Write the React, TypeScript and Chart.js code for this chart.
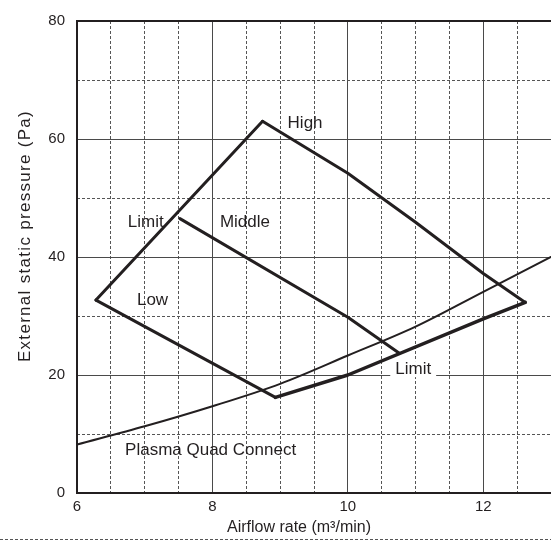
import React, { useEffect, useRef } from "react";
import { Chart, registerables } from "chart.js";

Chart.register(...registerables);

// Axis ticks and grid positions
const xMajorTicks = [6, 8, 10, 12];
const xMinorGrid = [6.5, 7, 7.5, 8.5, 9, 9.5, 10.5, 11, 11.5, 12.5];
const yMajorTicks = [0, 20, 40, 60, 80];
const yMinorGrid = [10, 30, 50, 70];

// Curves (airflow m3/min, pressure Pa)
const limitLeftX = [6.28, 8.74];
const limitLeftY = [32.7, 63];
const highX = [8.74, 10, 11, 12, 12.62];
const highY = [63, 54.2, 45.9, 37.2, 32.3];
const middleX = [7.52, 10, 10.76];
const middleY = [46.5, 29.8, 23.7];
const lowX = [6.28, 8.93];
const lowY = [32.7, 16.2];
const limitRightX = [8.93, 10, 12, 12.62];
const limitRightY = [16.2, 20, 29.5, 32.3];
const plasmaX = [6, 7, 8, 9, 10, 11, 12, 13];
const plasmaY = [8.2, 11.3, 14.7, 18.5, 23.3, 28.2, 34.1, 40];

// Text annotations
const annotationTexts = ["High", "Limit", "Middle", "Low", "Limit", "Plasma Quad Connect"];
const annotationX = [9.11, 6.75, 8.11, 6.885, 10.7, 6.71];
const annotationY = [62.7, 45.8, 45.8, 32.7, 21, 7.2];
const annotationBoxed = [false, false, false, false, true, false];

const xTitle = "Airflow rate (m³/min)";
const yTitle = "External static pressure (Pa)";

const INK = "#231f20";
const FONT = '"Liberation Sans", Arial, sans-serif';

const pts = (xs: number[], ys: number[]) => xs.map((x, i) => ({ x, y: ys[i] }));

const textPlugin = {
  id: "annotText",
  afterDatasetsDraw(chart: any) {
    const { ctx, scales } = chart;
    const x = scales.x;
    const y = scales.y;
    ctx.save();
    ctx.font = `17px ${FONT}`;
    ctx.textBaseline = "middle";
    ctx.textAlign = "left";
    annotationTexts.forEach((t, i) => {
      const px = x.getPixelForValue(annotationX[i]);
      const py = y.getPixelForValue(annotationY[i]);
      if (annotationBoxed[i]) {
        const w = ctx.measureText(t).width;
        ctx.fillStyle = "#ffffff";
        ctx.fillRect(px - 5, py - 8, w + 10, 16);
      }
      ctx.fillStyle = INK;
      ctx.fillText(t, px, py);
    });
    ctx.restore();
  },
  afterDraw(chart: any) {
    const { ctx, chartArea } = chart;
    ctx.save();
    // frame: top edge
    ctx.strokeStyle = INK;
    ctx.lineWidth = 2;
    ctx.beginPath();
    ctx.moveTo(chartArea.left - 1, chartArea.top);
    ctx.lineTo(chartArea.right, chartArea.top);
    ctx.stroke();
    // titles
    ctx.fillStyle = INK;
    ctx.font = `16px ${FONT}`;
    ctx.textAlign = "center";
    ctx.textBaseline = "middle";
    ctx.fillText(xTitle, 299, 528);
    ctx.font = `17px ${FONT}`;
    try {
      (ctx as any).letterSpacing = "1.3px";
    } catch (e) {}
    ctx.translate(25, 236);
    ctx.rotate(-Math.PI / 2);
    ctx.fillText(yTitle, 0, 0);
    ctx.restore();
    // bottom dashed separator
    ctx.save();
    ctx.strokeStyle = "#555";
    ctx.lineWidth = 1;
    ctx.setLineDash([3, 2]);
    ctx.beginPath();
    ctx.moveTo(0, 539.5);
    ctx.lineTo(chart.width, 539.5);
    ctx.stroke();
    ctx.restore();
  },
};

export default function App() {
  const ref = useRef<HTMLCanvasElement | null>(null);
  useEffect(() => {
    if (!ref.current) return;
    const line = (data: any, width: number, curved = false) => ({
      data,
      borderColor: INK,
      borderWidth: width,
      pointRadius: 0,
      fill: false,
      tension: 0,
      cubicInterpolationMode: curved ? "monotone" : "default",
      borderCapStyle: "round",
      borderJoinStyle: "round",
    });
    const chart = new Chart(ref.current, {
      type: "line",
      data: {
        datasets: [
          line(pts(plasmaX, plasmaY), 2, true),
          line(pts(limitLeftX, limitLeftY), 3),
          line(pts(highX, highY), 3),
          line(pts(middleX, middleY), 3),
          line(pts(lowX, lowY), 3),
          line(pts(limitRightX, limitRightY), 3.5),
        ] as any,
      },
      options: {
        animation: false,
        responsive: false,
        maintainAspectRatio: false,
        events: [],
        layout: { padding: { top: 13, right: 0, bottom: 0, left: 0 } },
        plugins: { legend: { display: false }, tooltip: { enabled: false } },
        scales: {
          x: {
            type: "linear",
            position: "bottom",
            min: 6,
            max: 13,
            afterBuildTicks: (s: any) => {
              s.ticks = xMajorTicks.map((v) => ({ value: v }));
            },
            afterFit: (s: any) => {
              s.height = 50;
            },
            ticks: {
              autoSkip: false,
              maxRotation: 0,
              padding: 5,
              color: INK,
              font: { family: FONT, size: 15 },
            },
            grid: { color: "#4a4a4a", lineWidth: 1, drawTicks: false },
            border: { display: true, color: INK, width: 2 },
          },
          x2: {
            type: "linear",
            position: "bottom",
            min: 6,
            max: 13,
            afterBuildTicks: (s: any) => {
              s.ticks = xMinorGrid.map((v) => ({ value: v }));
            },
            afterFit: (s: any) => {
              s.height = 0;
            },
            ticks: { display: false },
            grid: { color: "#555", lineWidth: 1, drawTicks: false },
            border: { display: false, dash: [3, 2] },
          },
          y: {
            type: "linear",
            position: "left",
            min: 0,
            max: 80,
            afterBuildTicks: (s: any) => {
              s.ticks = yMajorTicks.map((v) => ({ value: v }));
            },
            afterFit: (s: any) => {
              s.width = 77;
            },
            ticks: {
              padding: 12,
              color: INK,
              font: { family: FONT, size: 15 },
            },
            grid: { color: "#4a4a4a", lineWidth: 1, drawTicks: false },
            border: { display: true, color: INK, width: 2 },
          },
          y2: {
            type: "linear",
            position: "left",
            min: 0,
            max: 80,
            afterBuildTicks: (s: any) => {
              s.ticks = yMinorGrid.map((v) => ({ value: v }));
            },
            afterFit: (s: any) => {
              s.width = 0;
            },
            ticks: { display: false },
            grid: { color: "#555", lineWidth: 1, drawTicks: false },
            border: { display: false, dash: [3, 2] },
          },
        },
      } as any,
      plugins: [textPlugin],
    });
    return () => chart.destroy();
  }, []);
  return (
    <div style={{ position: "absolute", left: 0, top: 0, width: 551, height: 543, background: "#fff" }}>
      <canvas ref={ref} width={551} height={543} style={{ display: "block" }} />
    </div>
  );
}
